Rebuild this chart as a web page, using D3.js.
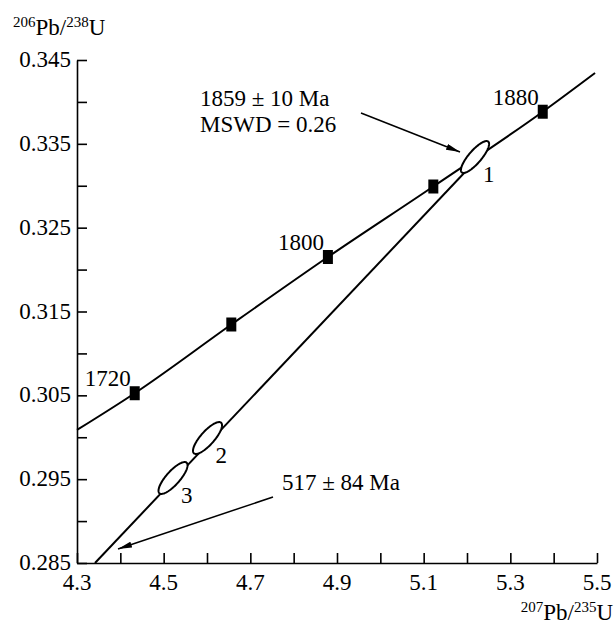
<!DOCTYPE html>
<html>
<head>
<meta charset="utf-8">
<script src="https://cdn.jsdelivr.net/npm/d3@7"></script>
<style>
  body { margin: 0; background: #fff; }
  svg text { font-family: "Liberation Serif", "Times New Roman", Times, "DejaVu Serif", serif; fill: #000; }
</style>
</head>
<body>
<div id="chart"></div>
<script>
    // concordia points (207Pb/235U, 206Pb/238U)
    var concX = [4.300, 4.4332, 4.6561, 4.879, 5.1223, 5.3748, 5.4955];
    var concY = [0.30087, 0.30525, 0.31345, 0.3215, 0.32991, 0.33883, 0.34345];
    // age markers on the concordia
    var ageX = [4.4332, 4.6561, 4.879, 5.1223, 5.3748];
    var ageY = [0.30525, 0.31345, 0.3215, 0.32991, 0.33883];
    var ageLabel = ["1720", "", "1800", "", "1880"];
    // discordia end points
    var discX = [4.3415, 5.237];
    var discY = [0.285, 0.3339];
    // analyses: centres, half extents, correlation
    var ellName = ["1", "2", "3"];
    var ellX = [5.2185, 4.6012, 4.5216];
    var ellY = [0.33343, 0.29991, 0.29514];
    var ellEx = [0.0325, 0.0335, 0.0335];
    var ellEy = [0.0019, 0.0019, 0.0019];
    var ellRho = [0.82, 0.80, 0.80];
    // axis ticks
    var xTicks = [4.3, 4.4, 4.5, 4.6, 4.7, 4.8, 4.9, 5.0, 5.1, 5.2, 5.3, 5.4, 5.5];
    var xLabels = [4.3, 4.5, 4.7, 4.9, 5.1, 5.3, 5.5];
    var yTicks = [0.285, 0.290, 0.295, 0.300, 0.305, 0.310, 0.315, 0.320, 0.325, 0.330, 0.335, 0.340, 0.345];
    var yLabels = [0.285, 0.295, 0.305, 0.315, 0.325, 0.335, 0.345];

    var width = 614, height = 627;
    var margin = {top: 60, right: 17, bottom: 64, left: 77};
    var fs = 23, fsSup = 15;
    var serif = "'Liberation Serif', 'Times New Roman', Times, 'DejaVu Serif', serif";

    var svg = d3.select("#chart").append("svg")
        .attr("width", width)
        .attr("height", height)
        .attr("font-family", serif);

    var x = d3.scaleLinear().domain([4.3, 5.5]).range([margin.left, width - margin.right]);
    var y = d3.scaleLinear().domain([0.285, 0.345]).range([height - margin.bottom, margin.top]);

    // arrowhead
    svg.append("defs").append("marker")
        .attr("id", "arr")
        .attr("viewBox", "0 0 14 6")
        .attr("refX", 14).attr("refY", 3)
        .attr("markerWidth", 14).attr("markerHeight", 6)
        .attr("markerUnits", "userSpaceOnUse")
        .attr("orient", "auto")
      .append("path")
        .attr("d", "M0,0L14,3L0,6Z")
        .attr("fill", "#000");

    // axes
    svg.append("g")
        .attr("transform", "translate(0," + y.range()[0] + ")")
        .call(d3.axisBottom(x).tickValues(xTicks).tickSizeInner(-10).tickSizeOuter(0).tickFormat(""));
    svg.append("g")
        .attr("transform", "translate(" + x.range()[0] + ",0)")
        .call(d3.axisLeft(y).tickValues(yTicks).tickSizeInner(-10).tickSizeOuter(0).tickFormat(""));
    svg.selectAll(".domain, .tick line").attr("stroke", "#000").attr("stroke-width", 1.6);

    svg.append("g").selectAll("text")
        .data(xLabels)
        .enter().append("text")
          .attr("x", function(d) { return x(d); })
          .attr("y", y.range()[0] + 27)
          .attr("text-anchor", "middle")
          .attr("font-size", fs)
          .text(function(d) { return d3.format(".1f")(d); });

    svg.append("g").selectAll("text")
        .data(yLabels)
        .enter().append("text")
          .attr("x", x.range()[0] - 6)
          .attr("y", function(d) { return y(d) + 7; })
          .attr("text-anchor", "end")
          .attr("font-size", fs)
          .text(function(d) { return d3.format(".3f")(d); });

    // axis titles
    var yt = svg.append("text").attr("x", 13).attr("y", 35).attr("font-size", fs);
    yt.append("tspan").attr("font-size", fsSup).attr("dy", -8).text("206");
    yt.append("tspan").attr("dy", 8).text("Pb/");
    yt.append("tspan").attr("font-size", fsSup).attr("dy", -8).text("238");
    yt.append("tspan").attr("dy", 8).text("U");

    var xt = svg.append("text").attr("x", 613).attr("y", 620).attr("text-anchor", "end").attr("font-size", fs);
    xt.append("tspan").attr("font-size", fsSup).attr("dy", -8).text("207");
    xt.append("tspan").attr("dy", 8).text("Pb/");
    xt.append("tspan").attr("font-size", fsSup).attr("dy", -8).text("235");
    xt.append("tspan").attr("dy", 8).text("U");

    // concordia
    var line = d3.line()
        .x(function(d) { return x(d[0]); })
        .y(function(d) { return y(d[1]); })
        .curve(d3.curveMonotoneX);
    svg.append("path")
        .datum(d3.zip(concX, concY))
        .attr("d", line)
        .attr("fill", "none")
        .attr("stroke", "#000")
        .attr("stroke-width", 2);

    // discordia
    svg.append("path")
        .datum(d3.zip(discX, discY))
        .attr("d", d3.line().x(function(d) { return x(d[0]); }).y(function(d) { return y(d[1]); }))
        .attr("fill", "none")
        .attr("stroke", "#000")
        .attr("stroke-width", 2);

    // error ellipses
    var ells = d3.range(ellName.length).map(function(i) {
      var delta = Math.acos(ellRho[i]);
      var pts = d3.range(0, 2 * Math.PI + 0.01, Math.PI / 60).map(function(t) {
        return [ellX[i] + ellEx[i] * Math.cos(t), ellY[i] + ellEy[i] * Math.cos(t + delta)];
      });
      return {name: ellName[i], cx: ellX[i], cy: ellY[i], pts: pts};
    });
    svg.append("g").selectAll("path")
        .data(ells)
        .enter().append("path")
          .attr("d", function(d) { return d3.line().x(function(p) { return x(p[0]); }).y(function(p) { return y(p[1]); })(d.pts) + "Z"; })
          .attr("fill", "#fff")
          .attr("stroke", "#000")
          .attr("stroke-width", 2);
    svg.append("g").selectAll("text")
        .data(ells)
        .enter().append("text")
          .attr("x", function(d) { return x(d.cx) + 8; })
          .attr("y", function(d) { return y(d.cy) + 25; })
          .attr("font-size", fs)
          .text(function(d) { return d.name; });

    // age markers
    var ages = d3.zip(ageX, ageY, ageLabel);
    svg.append("g").selectAll("rect")
        .data(ages)
        .enter().append("rect")
          .attr("x", function(d) { return x(d[0]) - 5; })
          .attr("y", function(d) { return y(d[1]) - 7; })
          .attr("width", 10)
          .attr("height", 14)
          .attr("fill", "#000");
    svg.append("g").selectAll("text")
        .data(ages.filter(function(d) { return d[2]; }))
        .enter().append("text")
          .attr("x", function(d) { return x(d[0]) - 4; })
          .attr("y", function(d) { return y(d[1]) - 7; })
          .attr("text-anchor", "end")
          .attr("font-size", fs)
          .text(function(d) { return d[2]; });

    // annotations
    svg.append("text").attr("x", 200).attr("y", 106).attr("font-size", fs).text("1859 ± 10 Ma");
    svg.append("text").attr("x", 200).attr("y", 132).attr("font-size", fs).text("MSWD = 0.26");
    svg.append("line")
        .attr("x1", 361).attr("y1", 113).attr("x2", 460).attr("y2", 152)
        .attr("stroke", "#000").attr("stroke-width", 1.5)
        .attr("marker-end", "url(#arr)");

    svg.append("text").attr("x", 282).attr("y", 490).attr("font-size", fs).text("517 ± 84 Ma");
    svg.append("line")
        .attr("x1", 273).attr("y1", 497).attr("x2", 118).attr("y2", 549)
        .attr("stroke", "#000").attr("stroke-width", 1.5)
        .attr("marker-end", "url(#arr)");
</script>
</body>
</html>
